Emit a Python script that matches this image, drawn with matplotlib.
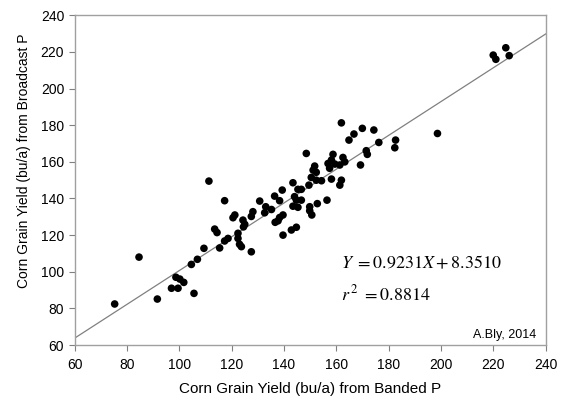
import matplotlib
matplotlib.use("Agg")
import matplotlib.pyplot as plt
import numpy as np

plt.rcParams['font.family'] = ['Liberation Sans', 'DejaVu Sans']
plt.rcParams['mathtext.fontset'] = 'stix'

banded = [75.3, 84.6, 91.6, 97.0, 99.5, 98.7, 100.2, 101.7, 105.6, 104.6,
          106.9, 109.4, 111.3, 113.5, 114.4, 115.4, 117.3, 117.3, 118.6, 120.5,
          121.2, 122.4, 122.4, 123.0, 123.7, 124.3, 125.0, 124.5, 127.5, 128.1,
          127.5, 130.7, 133.0, 132.6, 135.2, 136.4, 138.3, 139.3, 136.6, 137.7,
          138.3, 139.6, 139.6, 142.8, 144.7, 143.4, 145.3, 144.0, 144.7, 143.4,
          145.3, 146.6, 146.6, 148.5, 149.5, 149.8, 149.8, 150.6, 150.4, 151.1,
          151.7, 152.3, 152.3, 152.7, 154.3, 156.4, 156.8, 157.4, 158.1, 158.1,
          158.7, 159.4, 161.3, 161.9, 161.3, 161.9, 162.5, 163.2, 164.8, 166.7,
          169.2, 169.9, 171.4, 171.8, 174.3, 176.2, 182.6, 182.3, 198.6, 219.9,
          220.9, 224.7, 226.0]
broadcast = [82.4, 108.0, 85.1, 91.0, 91.0, 97.0, 96.0, 94.2, 88.2, 104.0,
             106.8, 112.8, 149.5, 123.3, 121.4, 113.0, 138.8, 116.8, 118.2, 129.5,
             131.0, 121.0, 118.2, 115.0, 113.7, 128.2, 125.9, 124.5, 130.2, 132.8,
             110.9, 138.6, 135.5, 132.2, 134.0, 141.3, 138.8, 144.6, 127.0, 127.8,
             129.6, 131.0, 120.0, 122.8, 124.3, 148.6, 145.0, 141.0, 139.1, 135.8,
             135.2, 145.0, 139.1, 164.6, 147.3, 135.5, 133.3, 131.0, 151.5, 155.5,
             157.7, 150.0, 154.3, 137.2, 149.7, 139.1, 159.1, 156.5, 161.0, 150.6,
             164.1, 158.8, 158.3, 150.0, 147.3, 181.3, 162.4, 160.0, 171.9, 175.2,
             158.3, 178.3, 166.1, 164.1, 177.4, 170.6, 171.9, 167.7, 175.5, 218.3,
             216.0, 222.3, 218.0]

slope = 0.9231
intercept = 8.3510
ticks = [60, 80, 100, 120, 140, 160, 180, 200, 220, 240]

fig = plt.figure(figsize=(5.61, 4.04), dpi=100)
ax = fig.add_axes([0.133, 0.146, 0.840, 0.816])

xl = np.array([60, 240])
ax.plot(xl, slope * xl + intercept, color='#808080', lw=0.9, zorder=1)
ax.scatter(banded, broadcast, s=30, color='black', edgecolors='none', zorder=2)

ax.set_xlim(60, 240)
ax.set_ylim(60, 240)
ax.set_xticks(ticks)
ax.set_yticks(ticks)
ax.tick_params(direction='out', length=4, width=0.8, color='#808080',
               labelsize=10, top=False, right=False)
ax.tick_params(axis='x', pad=5.5)
ax.tick_params(axis='y', pad=3.5)
for sp in ax.spines.values():
    sp.set_color('#a0a0a0')
    sp.set_linewidth(1.0)

ax.set_xlabel('Corn Grain Yield (bu/a) from Banded P', fontsize=11, labelpad=7)
ax.set_ylabel('Corn Grain Yield (bu/a) from Broadcast P', fontsize=10)
ax.yaxis.set_label_coords(-0.092, 0.56)

ax.text(0.565, 0.232, r'$Y\ = 0.9231X+8.3510$', transform=ax.transAxes,
        fontsize=13, ha='left', va='baseline')
ax.text(0.565, 0.136, r'$r^{\,2}\ = 0.8814$', transform=ax.transAxes,
        fontsize=13, ha='left', va='baseline')
ax.text(0.98, 0.022, 'A.Bly, 2014', transform=ax.transAxes,
        fontsize=9, ha='right', va='baseline')

fig.savefig('out.png', dpi=100)
